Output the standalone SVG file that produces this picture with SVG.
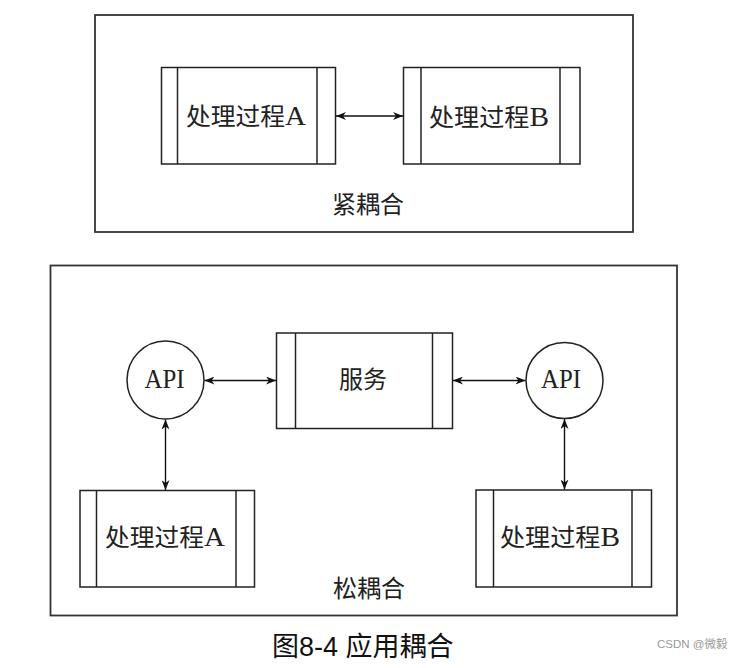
<svg xmlns="http://www.w3.org/2000/svg" width="740" height="668" viewBox="0 0 740 668">
<style>
.frame{fill:none;stroke:#333;stroke-width:1.8}
.box{fill:#fff;stroke:#222;stroke-width:1.5}
.bar{stroke:#222;stroke-width:1.5}
.circ{fill:#fff;stroke:#222;stroke-width:1.5}
.conn{stroke:#111;stroke-width:1.4;fill:none;marker-start:url(#ah);marker-end:url(#ah)}
.t{font-family:"Liberation Serif","Noto Sans CJK SC",serif;font-size:24px;fill:#222;text-anchor:middle}
.L{font-size:28px}
.api{font-family:"Liberation Serif","Noto Sans CJK SC",serif;font-size:28px;fill:#222;text-anchor:middle}
.cap{font-family:"Liberation Sans","Noto Sans CJK SC",sans-serif;font-size:27px;fill:#111}
.wm{font-family:"Liberation Sans","Noto Sans CJK SC",sans-serif;font-size:11.5px;fill:#999}
</style>
<defs>
<marker id="ah" markerUnits="userSpaceOnUse" markerWidth="11" markerHeight="8" refX="10" refY="4" orient="auto-start-reverse">
<path d="M0,0 L10,4 L0,8 L3,4 z" fill="#111"/>
</marker>
</defs>
<rect width="740" height="668" fill="#fff"/>

<g id="tight">
<rect class="frame" x="95" y="15" width="538" height="217"/>
<text class="t" x="368" y="213">紧耦合</text>
</g>
<g id="tightA">
<rect class="box" x="161.5" y="67.5" width="174" height="96.5"/>
<line class="bar" x1="177.5" y1="67.5" x2="177.5" y2="164"/>
<line class="bar" x1="317" y1="67.5" x2="317" y2="164"/>
<text class="t" x="246" y="125" textLength="120" lengthAdjust="spacingAndGlyphs">处理过程<tspan class="L">A</tspan></text>
</g>
<g id="tightB">
<rect class="box" x="403.5" y="67.5" width="176.5" height="96.5"/>
<line class="bar" x1="421" y1="67.5" x2="421" y2="164"/>
<line class="bar" x1="560" y1="67.5" x2="560" y2="164"/>
<text class="t" x="489" y="126" textLength="120" lengthAdjust="spacingAndGlyphs">处理过程<tspan class="L">B</tspan></text>
</g>

<g id="loose">
<rect class="frame" x="50.5" y="265.5" width="626.5" height="350"/>
<text class="t" x="369" y="597">松耦合</text>
</g>
<g id="apiLeft">
<ellipse class="circ" cx="165.5" cy="380" rx="38.5" ry="39"/>
<text class="api" x="164.5" y="388" textLength="40" lengthAdjust="spacingAndGlyphs">API</text>
</g>
<g id="service">
<rect class="box" x="276.5" y="333" width="176" height="95.5"/>
<line class="bar" x1="295.5" y1="333" x2="295.5" y2="428.5"/>
<line class="bar" x1="432.5" y1="333" x2="432.5" y2="428.5"/>
<text class="t" x="363" y="388">服务</text>
</g>
<g id="apiRight">
<ellipse class="circ" cx="564.5" cy="380.5" rx="38.5" ry="38"/>
<text class="api" x="561" y="388" textLength="40" lengthAdjust="spacingAndGlyphs">API</text>
</g>
<g id="looseA">
<rect class="box" x="80" y="490.5" width="174.5" height="96.5"/>
<line class="bar" x1="96.5" y1="490.5" x2="96.5" y2="587"/>
<line class="bar" x1="236" y1="490.5" x2="236" y2="587"/>
<text class="t" x="165" y="546" textLength="120" lengthAdjust="spacingAndGlyphs">处理过程<tspan class="L">A</tspan></text>
</g>
<g id="looseB">
<rect class="box" x="476" y="490" width="175.5" height="97"/>
<line class="bar" x1="493.5" y1="490" x2="493.5" y2="587"/>
<line class="bar" x1="632" y1="490" x2="632" y2="587"/>
<text class="t" x="560" y="546" textLength="120" lengthAdjust="spacingAndGlyphs">处理过程<tspan class="L">B</tspan></text>
</g>

<g id="connectors">
<line class="conn" x1="336" y1="116" x2="403" y2="116"/>
<line class="conn" x1="204.5" y1="380.5" x2="276" y2="380.5"/>
<line class="conn" x1="453" y1="380.5" x2="525.5" y2="380.5"/>
<line class="conn" x1="165.5" y1="419.5" x2="165.5" y2="490"/>
<line class="conn" x1="564.5" y1="419" x2="564.5" y2="489.5"/>
</g>

<g id="caption">
<text class="cap" x="272" y="656">图8-4 应用耦合</text>
<text class="wm" x="657" y="648">CSDN @微毅</text>
</g>
</svg>
